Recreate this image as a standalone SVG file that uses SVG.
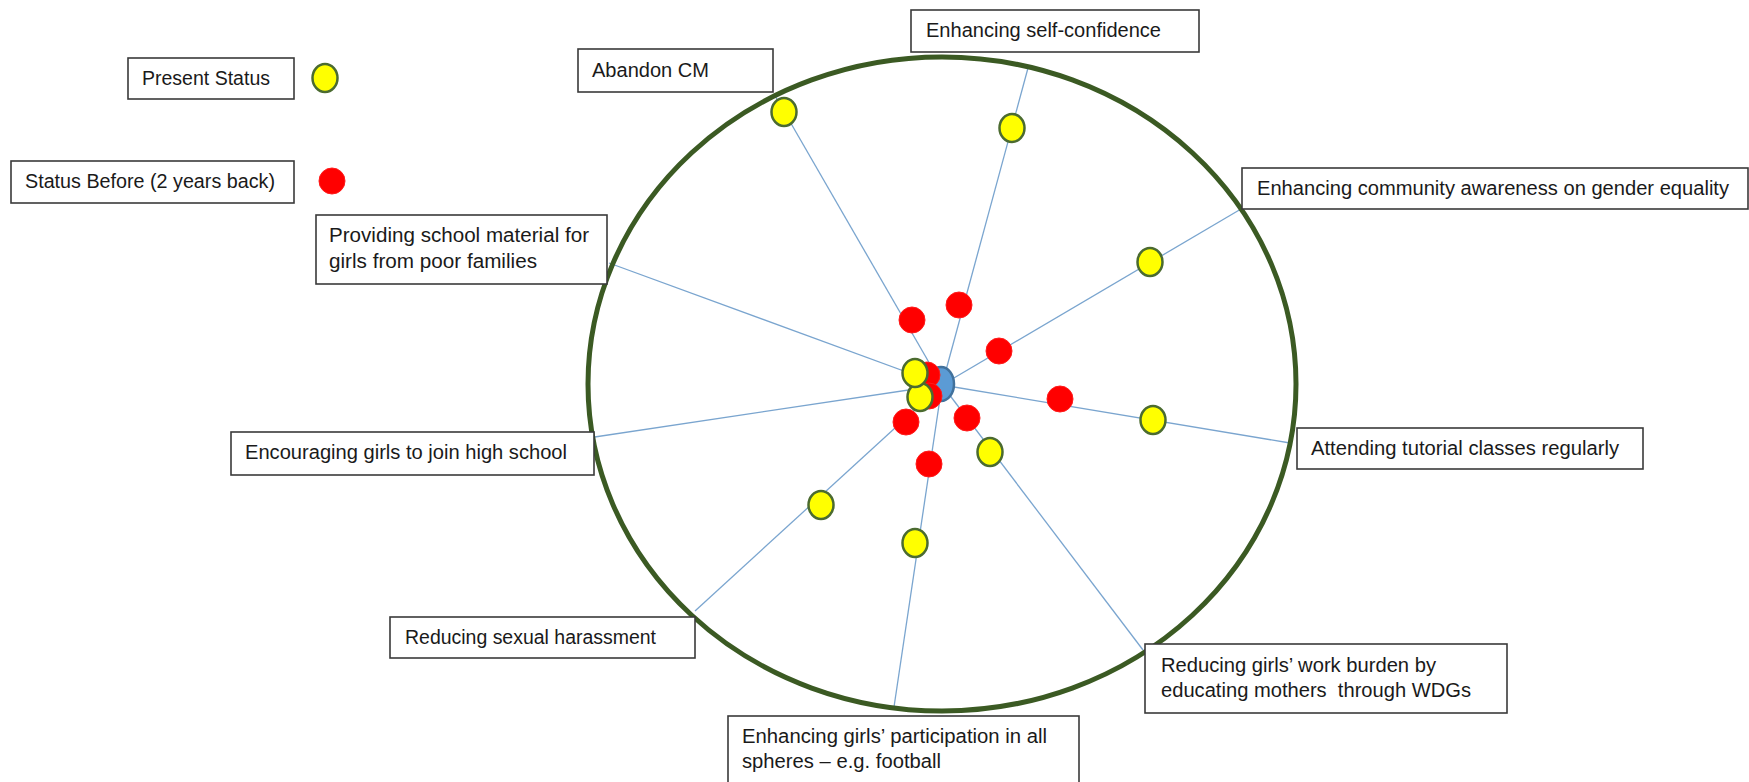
<svg xmlns="http://www.w3.org/2000/svg" width="1749" height="782" viewBox="0 0 1749 782">
  <style>
    .box { fill: #ffffff; stroke: #3a3a3a; stroke-width: 1.6; }
    .lbl { font-family: "Liberation Sans", Arial, sans-serif; font-size: 20px; fill: #1a1a1a; }
    .spoke { stroke: #7aa5cf; stroke-width: 1.3; fill: none; }
    .ring { fill: none; stroke: #3b5a23; stroke-width: 5; }
    .now { fill: #ffff00; stroke: #4b6b30; stroke-width: 2.5; }
    .before { fill: #ff0000; stroke: #ff1a1a; stroke-width: 1; }
    .hub { fill: #5b9bd5; stroke: #41719c; stroke-width: 2.5; }
  </style>

  <rect width="1749" height="782" fill="#ffffff"/>

  <!-- spokes from the hub out to each label -->
  <g id="connectors">
    <line class="spoke" x1="942" y1="385" x2="774" y2="94"/>
    <line class="spoke" x1="942" y1="385" x2="1028" y2="68"/>
    <line class="spoke" x1="942" y1="385" x2="1241" y2="209"/>
    <line class="spoke" x1="942" y1="385" x2="1290" y2="443"/>
    <line class="spoke" x1="942" y1="385" x2="1143" y2="650"/>
    <line class="spoke" x1="942" y1="385" x2="894" y2="707"/>
    <line class="spoke" x1="942" y1="385" x2="695" y2="611"/>
    <line class="spoke" x1="942" y1="385" x2="588" y2="438"/>
    <line class="spoke" x1="942" y1="385" x2="609" y2="263"/>
  </g>

  <!-- outer ring -->
  <g id="ring">
    <ellipse class="ring" cx="942" cy="384" rx="354" ry="327"/>
  </g>

  <!-- legend -->
  <g id="legend-present">
    <rect class="box" x="128" y="58" width="166" height="41"/>
    <text class="lbl" x="142" y="85" textLength="128" lengthAdjust="spacingAndGlyphs">Present Status</text>
    <ellipse class="now" cx="325" cy="78" rx="12.5" ry="14"/>
  </g>
  <g id="legend-before">
    <rect class="box" x="11" y="161" width="283" height="42"/>
    <text class="lbl" x="25" y="188" textLength="250" lengthAdjust="spacingAndGlyphs">Status Before (2 years back)</text>
    <circle class="before" cx="332" cy="181" r="13"/>
  </g>

  <!-- indicator labels -->
  <g id="abandon-cm">
    <rect class="box" x="578" y="49" width="195" height="43"/>
    <text class="lbl" x="592" y="77" textLength="117" lengthAdjust="spacingAndGlyphs">Abandon CM</text>
  </g>
  <g id="self-confidence">
    <rect class="box" x="911" y="10" width="288" height="42"/>
    <text class="lbl" x="926" y="37" textLength="235" lengthAdjust="spacingAndGlyphs">Enhancing self-confidence</text>
  </g>
  <g id="community-awareness">
    <rect class="box" x="1242" y="168" width="506" height="41"/>
    <text class="lbl" x="1257" y="195" textLength="472" lengthAdjust="spacingAndGlyphs">Enhancing community awareness on gender equality</text>
  </g>
  <g id="school-material">
    <rect class="box" x="316" y="215" width="291" height="69"/>
    <text class="lbl" x="329" y="242" textLength="260" lengthAdjust="spacingAndGlyphs">Providing school material for</text>
    <text class="lbl" x="329" y="268" textLength="208" lengthAdjust="spacingAndGlyphs">girls from poor families</text>
  </g>
  <g id="high-school">
    <rect class="box" x="231" y="432" width="363" height="43"/>
    <text class="lbl" x="245" y="459" textLength="322" lengthAdjust="spacingAndGlyphs">Encouraging girls to join high school</text>
  </g>
  <g id="tutorial-classes">
    <rect class="box" x="1297" y="428" width="346" height="41"/>
    <text class="lbl" x="1311" y="455" textLength="308" lengthAdjust="spacingAndGlyphs">Attending tutorial classes regularly</text>
  </g>
  <g id="sexual-harassment">
    <rect class="box" x="390" y="617" width="305" height="41"/>
    <text class="lbl" x="405" y="644" textLength="251" lengthAdjust="spacingAndGlyphs">Reducing sexual harassment</text>
  </g>
  <g id="work-burden">
    <rect class="box" x="1145" y="644" width="362" height="69"/>
    <text class="lbl" x="1161" y="672" textLength="275" lengthAdjust="spacingAndGlyphs">Reducing girls’ work burden by</text>
    <text class="lbl" x="1161" y="697" textLength="310" lengthAdjust="spacingAndGlyphs" xml:space="preserve">educating mothers  through WDGs</text>
  </g>
  <g id="participation">
    <rect class="box" x="728" y="716" width="351" height="70"/>
    <text class="lbl" x="742" y="743" textLength="305" lengthAdjust="spacingAndGlyphs">Enhancing girls’ participation in all</text>
    <text class="lbl" x="742" y="768" textLength="199" lengthAdjust="spacingAndGlyphs">spheres – e.g. football</text>
  </g>

  <!-- hub -->
  <g id="hub">
    <ellipse class="hub" cx="941" cy="384" rx="13" ry="17"/>
  </g>

  <!-- status two years back -->
  <g id="before-dots">
    <circle class="before" cx="912" cy="320" r="13"/>
    <circle class="before" cx="959" cy="305" r="13"/>
    <circle class="before" cx="999" cy="351" r="13"/>
    <circle class="before" cx="1060" cy="399" r="13"/>
    <circle class="before" cx="967" cy="418" r="13"/>
    <circle class="before" cx="929" cy="464" r="13"/>
    <circle class="before" cx="906" cy="422" r="13"/>
    <circle class="before" cx="927" cy="375" r="13"/>
    <circle class="before" cx="929" cy="396" r="13"/>
  </g>

  <!-- present status -->
  <g id="present-dots">
    <ellipse class="now" cx="784" cy="112" rx="12.5" ry="14"/>
    <ellipse class="now" cx="1012" cy="128" rx="12.5" ry="14"/>
    <ellipse class="now" cx="1150" cy="262" rx="12.5" ry="14"/>
    <ellipse class="now" cx="1153" cy="420" rx="12.5" ry="14"/>
    <ellipse class="now" cx="990" cy="452" rx="12.5" ry="14"/>
    <ellipse class="now" cx="915" cy="543" rx="12.5" ry="14"/>
    <ellipse class="now" cx="821" cy="505" rx="12.5" ry="14"/>
    <ellipse class="now" cx="920" cy="397" rx="12.5" ry="14"/>
    <ellipse class="now" cx="915" cy="373" rx="12.5" ry="14"/>
  </g>
</svg>
